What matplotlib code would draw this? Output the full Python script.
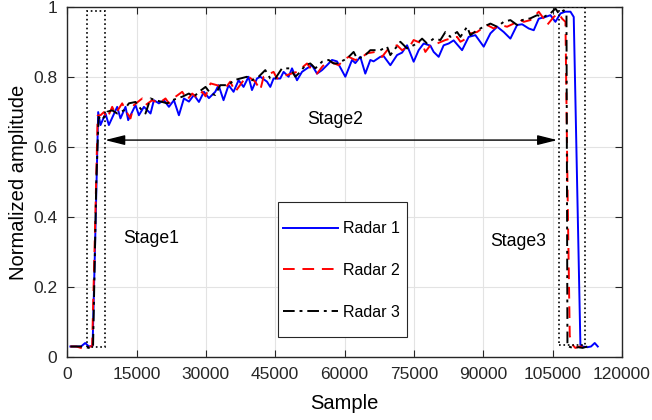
import numpy as np
import matplotlib.pyplot as plt
from matplotlib.patches import Rectangle

plt.rcParams['font.family'] = ['Liberation Sans', 'DejaVu Sans']

# Radar 1 (blue, solid)
r1_x = [700, 2000, 3000, 3900, 4700, 5500, 6000, 6710, 7210, 8290, 9020, 10820, 11530,
        12620, 13200, 14780, 15520, 16600, 18030, 18760, 19840, 20930, 22010, 23090,
        24170, 25250, 26340, 27420, 28500, 29580, 30660, 32030, 32740, 33820, 34910,
        35990, 37070, 38150, 39230, 39970, 41050, 41770, 43220, 43930, 44640, 46090,
        46810, 47890, 48630, 49710, 50790, 51870, 52950, 54040, 55120, 56200, 57280,
        58360, 60160, 61610, 62320, 63400, 64480, 65570, 66280, 67730, 68450, 69900,
        71350, 72430, 73510, 74940, 76020, 77100, 78550, 79270, 80350, 81430, 82510,
        83590, 85410, 86840, 88290, 90090, 91540, 92990, 94410, 95860, 97310, 98400,
        99830, 100910, 101990, 103440, 104520, 105600, 106690, 107770, 108850, 109560,
        111000, 111500, 112500, 113300, 114100, 114760]
r1_y = [0.030, 0.030, 0.030, 0.040, 0.030, 0.032, 0.300, 0.700, 0.663, 0.696, 0.663, 0.715, 0.682,
        0.715, 0.677, 0.720, 0.691, 0.715, 0.696, 0.734, 0.725, 0.734, 0.715, 0.734,
        0.691, 0.739, 0.730, 0.749, 0.729, 0.758, 0.740, 0.758, 0.777, 0.734, 0.777,
        0.758, 0.791, 0.772, 0.801, 0.763, 0.796, 0.801, 0.787, 0.772, 0.796, 0.796,
        0.815, 0.801, 0.825, 0.791, 0.815, 0.825, 0.834, 0.810, 0.820, 0.834, 0.849,
        0.845, 0.801, 0.849, 0.840, 0.858, 0.810, 0.849, 0.845, 0.858, 0.860, 0.834,
        0.863, 0.870, 0.891, 0.844, 0.877, 0.896, 0.890, 0.872, 0.858, 0.891, 0.896,
        0.905, 0.877, 0.915, 0.920, 0.887, 0.925, 0.944, 0.929, 0.910, 0.949, 0.951,
        0.939, 0.934, 0.967, 0.972, 0.977, 0.958, 0.982, 0.987, 0.987, 0.972,
        0.035, 0.030, 0.028, 0.030, 0.040, 0.030]

# Radar 2 (red, dashed)
r2_x = [700, 2000, 3200, 4500, 5400, 6000, 6600, 7210, 7940, 8660, 9740, 10450, 11900,
        12620, 13700, 14430, 16230, 16940, 18390, 19840, 21270, 22010, 23440, 24890,
        25970, 27050, 28130, 29210, 29930, 31010, 32390, 34190, 35270, 36350, 38150,
        39230, 40680, 41770, 42480, 44640, 45380, 47540, 49710, 51870, 52950, 54040,
        55120, 55830, 56910, 58710, 59790, 60870, 62320, 63400, 64850, 66650, 68100,
        69530, 71350, 72430, 74220, 74940, 76760, 77470, 78550, 80000, 81800, 82880,
        84330, 85050, 85760, 87210, 88660, 90820, 92250, 93700, 95150, 96580, 97660,
        98740, 100190, 101990, 103070, 103810, 105240, 106320, 107050, 107770, 108200,
        108700, 109300, 109900, 110800, 111880, 112600]
r2_y = [0.030, 0.030, 0.025, 0.030, 0.030, 0.350, 0.690, 0.691, 0.700, 0.682, 0.715, 0.695, 0.725,
        0.705, 0.682, 0.720, 0.739, 0.720, 0.734, 0.725, 0.739, 0.725, 0.744, 0.758,
        0.735, 0.753, 0.740, 0.758, 0.745, 0.782, 0.777, 0.768, 0.787, 0.758, 0.791,
        0.801, 0.787, 0.763, 0.801, 0.815, 0.796, 0.806, 0.815, 0.839, 0.820, 0.810,
        0.829, 0.839, 0.844, 0.834, 0.849, 0.858, 0.849, 0.853, 0.868, 0.872, 0.858,
        0.882, 0.891, 0.877, 0.891, 0.906, 0.896, 0.872, 0.891, 0.896, 0.906, 0.910,
        0.915, 0.901, 0.906, 0.925, 0.929, 0.949, 0.939, 0.949, 0.944, 0.953, 0.967,
        0.958, 0.963, 0.987, 0.967, 0.949, 0.972, 0.982, 0.967, 0.958, 0.500,
        0.060, 0.035, 0.026, 0.030, 0.030, 0.028]

# Radar 3 (black, dash-dot)
r3_x = [700, 2000, 3500, 5000, 5600, 6300, 6800, 7570, 8660, 9740, 10820, 12270, 13350,
        14780, 15860, 16940, 18030, 19110, 20560, 21640, 22720, 23800, 24890, 26330,
        27420, 28500, 29930, 31010, 32030, 33110, 34910, 35990, 37440, 38890, 39970,
        41400, 42850, 43930, 45010, 46460, 48260, 49340, 50420, 51500, 52590, 53670,
        55120, 56550, 57630, 58360, 60530, 61960, 62690, 64120, 65570, 67730, 69180,
        69900, 72060, 73510, 75670, 76760, 77840, 79270, 80720, 81800, 82880, 84330,
        85050, 86500, 87210, 88660, 90090, 91540, 92990, 94410, 95860, 97310, 98400,
        100190, 101640, 103070, 104520, 105600, 106320, 107400, 107990, 108200,
        108500, 109500, 110500, 111500, 112500]
r3_y = [0.030, 0.030, 0.030, 0.025, 0.030, 0.500, 0.686, 0.677, 0.701, 0.705, 0.696, 0.705, 0.725,
        0.729, 0.710, 0.696, 0.739, 0.734, 0.729, 0.725, 0.734, 0.739, 0.744, 0.753,
        0.744, 0.758, 0.772, 0.753, 0.749, 0.777, 0.777, 0.791, 0.796, 0.801, 0.791,
        0.801, 0.820, 0.796, 0.796, 0.825, 0.825, 0.801, 0.815, 0.834, 0.839, 0.825,
        0.844, 0.849, 0.839, 0.839, 0.853, 0.872, 0.853, 0.858, 0.877, 0.877, 0.887,
        0.863, 0.901, 0.882, 0.896, 0.910, 0.896, 0.910, 0.906, 0.929, 0.915, 0.929,
        0.915, 0.944, 0.920, 0.934, 0.944, 0.953, 0.944, 0.958, 0.963, 0.949, 0.963,
        0.968, 0.977, 0.972, 0.982, 0.996, 0.982, 0.991, 0.977, 0.030,
        0.030, 0.025, 0.028, 0.026, 0.030]

# stage boxes (x0, x1, y0, y1) and arrow span
stage1_box = (4300, 8200, 0.03, 0.99)
stage3_box = (106300, 111900, 0.035, 1.0)
arrow_span = (8200, 106000, 0.62)
x_ticks = np.arange(0, 120001, 15000)

fig = plt.figure(figsize=(6.52, 4.2), dpi=100)
ax = fig.add_axes([0.103, 0.15, 0.851, 0.833])

ax.plot(r1_x, r1_y, color='blue', lw=1.4, label='Radar 1')
ax.plot(r2_x, r2_y, color='red', lw=1.4, linestyle=(0, (6, 4)), label='Radar 2')
ax.plot(r3_x, r3_y, color='black', lw=1.4, linestyle=(0, (6, 2.5, 1.5, 2.5)), label='Radar 3')

for x0, x1, y0, y1 in [stage1_box, stage3_box]:
    ax.add_patch(Rectangle((x0, y0), x1 - x0, y1 - y0, fill=False,
                           ls=':', lw=1.2, ec='black', zorder=3))

ax.annotate('', xy=(arrow_span[0], arrow_span[2]), xytext=(arrow_span[1], arrow_span[2]),
            arrowprops=dict(arrowstyle='<|-|>,head_length=1.2,head_width=0.3',
                            color='black', lw=1.0, shrinkA=0, shrinkB=0))

ax.text(18100, 0.34, 'Stage1', fontsize=12.7, ha='center', va='center')
ax.text(58000, 0.68, 'Stage2', fontsize=12.7, ha='center', va='center')
ax.text(97500, 0.33, 'Stage3', fontsize=12.7, ha='center', va='center')

ax.set_xlim(0, 120000)
ax.set_ylim(0, 1)
ax.set_xticks(x_ticks)
ax.set_yticks([0, 0.2, 0.4, 0.6, 0.8, 1])
ax.set_yticklabels(['0', '0.2', '0.4', '0.6', '0.8', '1'])
ax.tick_params(direction='in', labelsize=12.5, color='#262626', labelcolor='#262626',
               length=5, pad=7, top=True, right=True, labeltop=False, labelright=False)
ax.grid(True, color='#e3e3e3', lw=0.8)
ax.set_axisbelow(True)
for sp in ax.spines.values():
    sp.set_color('#262626')
    sp.set_linewidth(1.0)
ax.set_xlabel('Sample', fontsize=14.5, labelpad=9)
ax.set_ylabel('Normalized amplitude', fontsize=14.5, labelpad=3.5)

# legend frame drawn separately so the padding can differ per side
ax.add_patch(Rectangle((0.380, 0.057), 0.2326, 0.386, transform=ax.transAxes,
                       fc='white', ec='#262626', lw=0.8, zorder=4))
leg = ax.legend(loc='center left', bbox_to_anchor=(0.389, 0.247),
                fontsize=11.5, labelspacing=1.68, handlelength=3.45, handletextpad=0.3,
                borderpad=0, borderaxespad=0, frameon=False)
leg.set_zorder(5)

fig.savefig('out.png', dpi=100)
